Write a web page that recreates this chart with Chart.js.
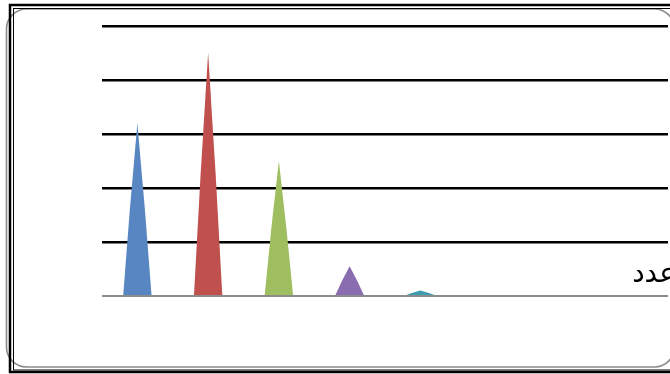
<!DOCTYPE html>
<html>
<head>
<meta charset="utf-8">
<style>
  html, body { margin: 0; padding: 0; background: #fff; }
  #wrap { position: relative; width: 670px; height: 374px; }
  canvas { display: block; }
</style>
<script src="https://cdn.jsdelivr.net/npm/chart.js@4/dist/chart.umd.min.js"></script>
</head>
<body>
<div id="wrap"><canvas id="c" width="670" height="374"></canvas></div>
<script>
// Categories and counts
const categories = ['١', '٢', '٣', '٤', '٥', '٦', '٧', '٨'];
const counts = [32, 45, 25, 5.5, 1, 0, 0, 0];
const seriesName = 'عدد';
const pointColors = ['#5886C2', '#C0504D', '#9FBE5F', '#8A6CB0', '#3F9BB0', '#F79646', '#4F81BD', '#C0504D'];
const yTicks = [0, 10, 20, 30, 40, 50];

// Frame: gray rounded panel plus a black double border
const framePlugin = {
  id: 'frame',
  beforeDraw(chart) {
    const ctx = chart.ctx;
    ctx.save();
    ctx.fillStyle = '#fff';
    ctx.fillRect(0, 0, chart.width, chart.height);
    // rounded gray panel
    ctx.strokeStyle = '#8a8a8a';
    ctx.lineWidth = 1.6;
    ctx.beginPath();
    ctx.roundRect(6.5, 9, 668, 358, 20);
    ctx.stroke();
    // thick outer black border
    ctx.strokeStyle = '#000';
    ctx.lineWidth = 2.5;
    ctx.strokeRect(10, 5, 680, 367);
    // thin inner black line
    ctx.lineWidth = 1;
    ctx.strokeRect(13.5, 8.5, 680, 361.5);
    ctx.restore();
  }
};

// Bars are rendered as cones standing on the category axis
const conePlugin = {
  id: 'cones',
  beforeDatasetDraw(chart, args) {
    const ctx = chart.ctx;
    const meta = args.meta;
    ctx.save();
    meta.data.forEach((bar, i) => {
      const p = bar.getProps(['x', 'y', 'base', 'width'], true);
      const h = p.base - p.y;
      if (h < 0.5) return;
      const hw = p.width / 2;
      ctx.fillStyle = pointColors[i % pointColors.length];
      ctx.beginPath();
      ctx.moveTo(p.x - hw, p.base);
      ctx.quadraticCurveTo(p.x - hw * 0.56, p.y + h * 0.5, p.x, p.y);
      ctx.quadraticCurveTo(p.x + hw * 0.56, p.y + h * 0.5, p.x + hw, p.base);
      ctx.closePath();
      ctx.fill();
    });
    ctx.restore();
    return false;
  }
};

// Series name drawn as legend text near the right edge
const legendTextPlugin = {
  id: 'legendText',
  afterDraw(chart) {
    const ctx = chart.ctx;
    const a = chart.chartArea;
    ctx.save();
    ctx.fillStyle = '#000';
    ctx.font = '28px "DejaVu Sans", sans-serif';
    ctx.direction = 'rtl';
    ctx.textAlign = 'right';
    ctx.textBaseline = 'alphabetic';
    ctx.fillText(chart.data.datasets[0].label, a.right + 8, a.bottom - 14);
    ctx.restore();
  }
};

new Chart(document.getElementById('c'), {
  type: 'bar',
  data: {
    labels: categories,
    datasets: [{
      label: seriesName,
      data: counts,
      backgroundColor: pointColors,
      categoryPercentage: 1,
      barPercentage: 0.4
    }]
  },
  options: {
    responsive: false,
    animation: false,
    events: [],
    layout: { padding: { left: 102, right: 2, top: 26, bottom: 78 } },
    plugins: { legend: { display: false }, tooltip: { enabled: false } },
    scales: {
      x: {
        grid: { display: false, drawTicks: false },
        border: { display: false },
        ticks: { display: false }
      },
      y: {
        min: yTicks[0],
        max: yTicks[yTicks.length - 1],
        afterBuildTicks(scale) { scale.ticks = yTicks.map(v => ({ value: v })); },
        grid: {
          drawTicks: false,
          color: c => (c.tick && c.tick.value === 0) ? '#8c8c8c' : '#000',
          lineWidth: c => (c.tick && c.tick.value === 0) ? 2 : 2.5
        },
        border: { display: false },
        ticks: { display: false }
      }
    }
  },
  plugins: [framePlugin, conePlugin, legendTextPlugin]
});
</script>
</body>
</html>
